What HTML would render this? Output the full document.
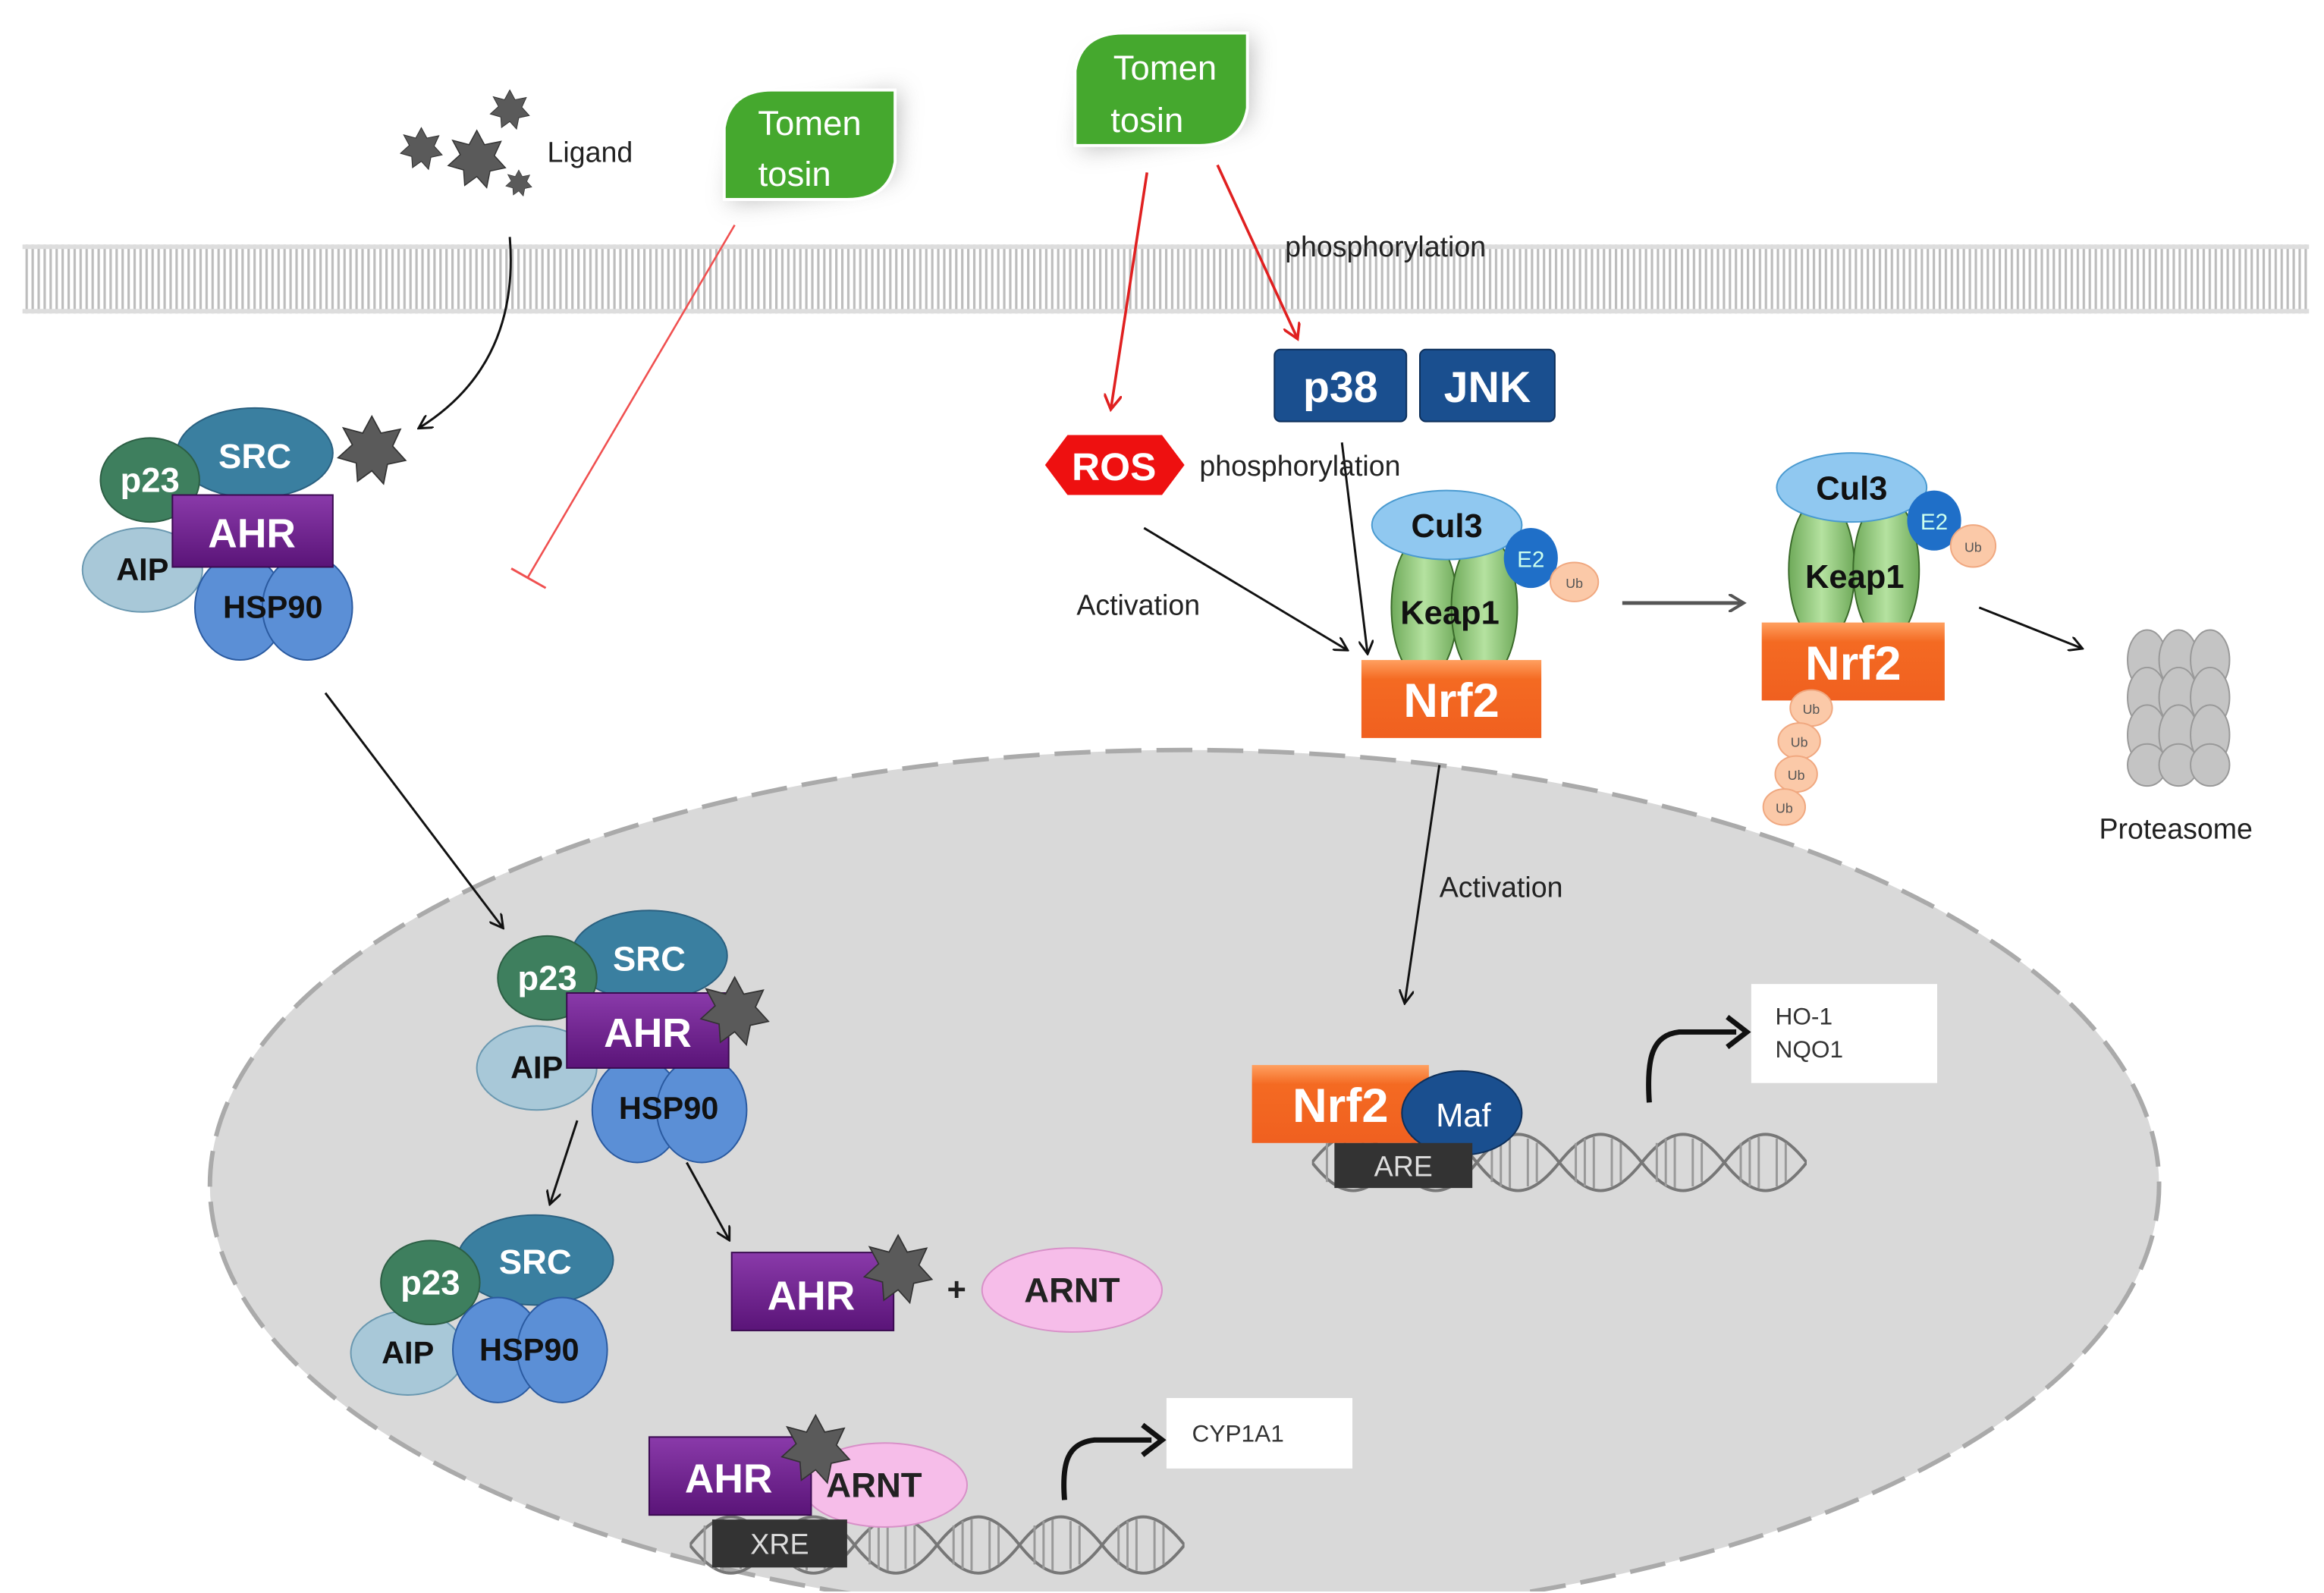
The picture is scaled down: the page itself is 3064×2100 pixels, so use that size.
<!DOCTYPE html>
<html><head><style>html,body{margin:0;padding:0;background:#fff}svg{display:block}</style></head><body>
<svg width="3064" height="2100" viewBox="0 0 1550 1062" preserveAspectRatio="none" xmlns="http://www.w3.org/2000/svg" font-family="Liberation Sans, sans-serif">
<defs>
<pattern id="mem" width="4" height="46" patternUnits="userSpaceOnUse"><rect width="4" height="46" fill="#fff"/><rect x="1" y="0" width="1.6" height="46" fill="#bdbdbd"/></pattern>
<marker id="ab" markerWidth="10" markerHeight="10" refX="8" refY="5" orient="auto" markerUnits="userSpaceOnUse"><path d="M0,0 L9,5 L0,10" fill="none" stroke="#111" stroke-width="1.5"/></marker>
<marker id="ar" markerWidth="12" markerHeight="12" refX="9" refY="6" orient="auto" markerUnits="userSpaceOnUse"><path d="M0,0 L10,6 L0,12" fill="none" stroke="#e02020" stroke-width="1.8"/></marker>
<marker id="ag" markerWidth="12" markerHeight="12" refX="9" refY="6" orient="auto" markerUnits="userSpaceOnUse"><path d="M0,0 L10,6 L0,12" fill="none" stroke="#555" stroke-width="2"/></marker>
<filter id="sh" x="-50%" y="-50%" width="200%" height="200%"><feGaussianBlur stdDeviation="8"/></filter>
<linearGradient id="og" x1="0" y1="0" x2="0" y2="1"><stop offset="0" stop-color="#ffa060"/><stop offset="0.25" stop-color="#f46a22"/><stop offset="1" stop-color="#f06020"/></linearGradient>
<linearGradient id="pg" x1="0" y1="0" x2="0" y2="1"><stop offset="0" stop-color="#8a3aaa"/><stop offset="1" stop-color="#5a1478"/></linearGradient>
<linearGradient id="gg" x1="0" y1="0" x2="1" y2="0"><stop offset="0" stop-color="#6faa5a"/><stop offset="0.5" stop-color="#b5e2a0"/><stop offset="1" stop-color="#6faa5a"/></linearGradient>
<symbol id="star" viewBox="-30 -30 60 60"><polygon points="0,-26 7,-13 22,-16 16,-3 26,8 12,11 9,26 0,16 -11,24 -12,10 -26,6 -15,-4 -22,-17 -7,-13" fill="#5a5a5a" stroke="#333" stroke-width="1"/></symbol>
<symbol id="helix" viewBox="0 0 330 50"><g fill="none" stroke="#777" stroke-width="2"><path d="M0,25 C20,0 35,0 55,25 S90,50 110,25 S145,0 165,25 S200,50 220,25 S255,0 275,25 S310,50 330,25"/><path d="M0,25 C20,50 35,50 55,25 S90,0 110,25 S145,50 165,25 S200,0 220,25 S255,50 275,25 S310,0 330,25"/></g><g stroke="#999" stroke-width="1.5"><path d="M10,12v26M16,9v32M22,8v34M34,9v32M40,12v26M66,12v26M72,9v32M78,8v34M90,9v32M96,12v26M120,12v26M126,9v32M132,8v34M144,9v32M150,12v26M176,12v26M182,9v32M188,8v34M200,9v32M206,12v26M230,12v26M236,9v32M242,8v34M254,9v32M260,12v26M286,12v26M292,9v32M298,8v34M310,9v32M316,12v26"/></g></symbol>
</defs>

<!-- membrane -->
<rect x="15" y="163" width="1525" height="46" fill="url(#mem)"/>
<rect x="15" y="163" width="1525" height="3" fill="#ddd"/><rect x="15" y="206" width="1525" height="3" fill="#ddd"/>

<!-- nucleus -->
<ellipse cx="790" cy="790" rx="650" ry="290" fill="#d9d9d9" stroke="#aaa" stroke-width="3" stroke-dasharray="24,10"/>
<rect x="0" y="1061" width="1550" height="2" fill="#fff"/>

<!-- ligand -->
<use href="#star" x="265" y="83" width="32" height="32"/>
<use href="#star" x="296" y="84" width="44" height="44"/>
<use href="#star" x="325" y="58" width="30" height="30"/>
<use href="#star" x="336" y="112" width="20" height="20"/>
<text x="365" y="108" font-size="19" fill="#222">Ligand</text>

<!-- tomentosin leaves -->
<path d="M496,80 Q560,70 600,60 L596,118 Q560,128 486,135 Z" fill="#999" filter="url(#sh)" opacity="0.7"/>
<path d="M483,133 L483,85 Q487,60 515,60 L597,60 L597,108 Q593,133 565,133 Z" fill="#45a82e" stroke="#fff" stroke-width="2"/>
<text x="540" y="90" font-size="23" fill="#fff" text-anchor="middle">Tomen</text>
<text x="530" y="124" font-size="23" fill="#fff" text-anchor="middle">tosin</text>
<path d="M730,40 Q790,30 835,25 L832,82 Q790,92 720,100 Z" fill="#999" filter="url(#sh)" opacity="0.7"/>
<path d="M717,97 L717,47 Q721,22 749,22 L832,22 L832,72 Q828,97 800,97 Z" fill="#45a82e" stroke="#fff" stroke-width="2"/>
<text x="777" y="53" font-size="23" fill="#fff" text-anchor="middle">Tomen</text>
<text x="765" y="88" font-size="23" fill="#fff" text-anchor="middle">tosin</text>

<!-- connectors -->
<path d="M340,158 C345,220 320,260 280,285" fill="none" stroke="#111" stroke-width="1.5" marker-end="url(#ab)"/>
<line x1="490" y1="150" x2="352" y2="385" stroke="#f05050" stroke-width="1.3"/>
<line x1="341" y1="379" x2="364" y2="392" stroke="#f05050" stroke-width="1.5"/>
<line x1="217" y1="462" x2="335" y2="618" stroke="#111" stroke-width="1.5" marker-end="url(#ab)"/>
<line x1="765" y1="115" x2="741" y2="272" stroke="#e02020" stroke-width="1.8" marker-end="url(#ar)"/>
<line x1="812" y1="110" x2="865" y2="225" stroke="#e02020" stroke-width="1.8" marker-end="url(#ar)"/>
<line x1="763" y1="352" x2="898" y2="433" stroke="#111" stroke-width="1.5" marker-end="url(#ab)"/>
<line x1="895" y1="295" x2="912" y2="435" stroke="#111" stroke-width="1.5" marker-end="url(#ab)"/>
<line x1="1082" y1="402" x2="1162" y2="402" stroke="#555" stroke-width="2.5" marker-end="url(#ag)"/>
<line x1="1320" y1="405" x2="1388" y2="432" stroke="#111" stroke-width="1.5" marker-end="url(#ab)"/>
<line x1="960" y1="510" x2="937" y2="668" stroke="#111" stroke-width="1.5" marker-end="url(#ab)"/>
<line x1="385" y1="747" x2="367" y2="802" stroke="#111" stroke-width="1.5" marker-end="url(#ab)"/>
<line x1="458" y1="775" x2="486" y2="826" stroke="#111" stroke-width="1.5" marker-end="url(#ab)"/>

<text x="857" y="171" font-size="19" fill="#222">phosphorylation</text>
<text x="800" y="317" font-size="19" fill="#222">phosphorylation</text>
<text x="718" y="410" font-size="19" fill="#222">Activation</text>
<text x="960" y="598" font-size="19" fill="#222">Activation</text>

<!-- AHR complex 1 -->
<ellipse cx="95" cy="380" rx="40" ry="28" fill="#a8c8d8" stroke="#6a98b0"/>
<ellipse cx="170" cy="302" rx="52" ry="30" fill="#3a7fa0" stroke="#2a6080"/>
<ellipse cx="100" cy="320" rx="33" ry="28" fill="#3e7f5e" stroke="#2c5e44"/>
<ellipse cx="160" cy="405" rx="30" ry="35" fill="#5b8fd6" stroke="#2a5aa0"/>
<ellipse cx="205" cy="405" rx="30" ry="35" fill="#5b8fd6" stroke="#2a5aa0"/>
<rect x="115" y="330" width="107" height="48" fill="url(#pg)" stroke="#3a0a50"/>
<use href="#star" x="222" y="274" width="52" height="52"/>
<text x="170" y="312" font-size="23" font-weight="bold" fill="#fff" text-anchor="middle">SRC</text>
<text x="100" y="328" font-size="23" font-weight="bold" fill="#fff" text-anchor="middle">p23</text>
<text x="168" y="365" font-size="27" font-weight="bold" fill="#fff" text-anchor="middle">AHR</text>
<text x="95" y="387" font-size="21" font-weight="bold" fill="#111" text-anchor="middle">AIP</text>
<text x="182" y="412" font-size="21" font-weight="bold" fill="#111" text-anchor="middle">HSP90</text>

<!-- AHR complex 2 (nucleus) -->
<ellipse cx="358" cy="712" rx="40" ry="28" fill="#a8c8d8" stroke="#6a98b0"/>
<ellipse cx="433" cy="637" rx="52" ry="30" fill="#3a7fa0" stroke="#2a6080"/>
<ellipse cx="365" cy="652" rx="33" ry="28" fill="#3e7f5e" stroke="#2c5e44"/>
<ellipse cx="425" cy="740" rx="30" ry="35" fill="#5b8fd6" stroke="#2a5aa0"/>
<ellipse cx="468" cy="740" rx="30" ry="35" fill="#5b8fd6" stroke="#2a5aa0"/>
<rect x="378" y="662" width="108" height="50" fill="url(#pg)" stroke="#3a0a50"/>
<use href="#star" x="464" y="648" width="52" height="52"/>
<text x="433" y="647" font-size="23" font-weight="bold" fill="#fff" text-anchor="middle">SRC</text>
<text x="365" y="660" font-size="23" font-weight="bold" fill="#fff" text-anchor="middle">p23</text>
<text x="432" y="698" font-size="27" font-weight="bold" fill="#fff" text-anchor="middle">AHR</text>
<text x="358" y="719" font-size="21" font-weight="bold" fill="#111" text-anchor="middle">AIP</text>
<text x="446" y="746" font-size="21" font-weight="bold" fill="#111" text-anchor="middle">HSP90</text>

<!-- complex 3 -->
<ellipse cx="272" cy="902" rx="38" ry="28" fill="#a8c8d8" stroke="#6a98b0"/>
<ellipse cx="357" cy="840" rx="52" ry="30" fill="#3a7fa0" stroke="#2a6080"/>
<ellipse cx="287" cy="855" rx="33" ry="28" fill="#3e7f5e" stroke="#2c5e44"/>
<ellipse cx="332" cy="900" rx="30" ry="35" fill="#5b8fd6" stroke="#2a5aa0"/>
<ellipse cx="375" cy="900" rx="30" ry="35" fill="#5b8fd6" stroke="#2a5aa0"/>
<text x="357" y="849" font-size="23" font-weight="bold" fill="#fff" text-anchor="middle">SRC</text>
<text x="287" y="863" font-size="23" font-weight="bold" fill="#fff" text-anchor="middle">p23</text>
<text x="272" y="909" font-size="21" font-weight="bold" fill="#111" text-anchor="middle">AIP</text>
<text x="353" y="907" font-size="21" font-weight="bold" fill="#111" text-anchor="middle">HSP90</text>

<!-- AHR + ARNT -->
<rect x="488" y="835" width="108" height="52" fill="url(#pg)" stroke="#3a0a50"/>
<use href="#star" x="573" y="820" width="52" height="52"/>
<text x="541" y="873" font-size="27" font-weight="bold" fill="#fff" text-anchor="middle">AHR</text>
<text x="638" y="867" font-size="22" font-weight="bold" fill="#222" text-anchor="middle">+</text>
<ellipse cx="715" cy="860" rx="60" ry="28" fill="#f6bde9" stroke="#d890c8"/>
<text x="715" y="868" font-size="23" font-weight="bold" fill="#222" text-anchor="middle">ARNT</text>

<!-- bottom XRE -->
<use href="#helix" x="460" y="1005" width="330" height="50"/>
<ellipse cx="590" cy="990" rx="55" ry="28" fill="#f6bde9" stroke="#d890c8"/>
<rect x="433" y="958" width="108" height="52" fill="url(#pg)" stroke="#3a0a50"/>
<use href="#star" x="518" y="940" width="52" height="52"/>
<text x="486" y="995" font-size="27" font-weight="bold" fill="#fff" text-anchor="middle">AHR</text>
<text x="583" y="998" font-size="23" font-weight="bold" fill="#222" text-anchor="middle">ARNT</text>
<rect x="475" y="1013" width="90" height="32" fill="#333"/>
<text x="520" y="1036" font-size="19" fill="#ddd" text-anchor="middle">XRE</text>
<path d="M710,1000 C708,975 712,962 730,960 L768,960" fill="none" stroke="#111" stroke-width="3.5"/>
<path d="M762,950 L775,960 L762,970" fill="none" stroke="#111" stroke-width="3.5"/>
<rect x="778" y="932" width="124" height="47" fill="#fff"/>
<text x="795" y="961" font-size="16" fill="#333">CYP1A1</text>

<!-- p38 JNK ROS -->
<rect x="850" y="233" width="88" height="48" rx="4" fill="#1a4f8f" stroke="#0d2f5a"/>
<text x="894" y="268" font-size="29" font-weight="bold" fill="#fff" text-anchor="middle">p38</text>
<rect x="947" y="233" width="90" height="48" rx="4" fill="#1a4f8f" stroke="#0d2f5a"/>
<text x="992" y="268" font-size="29" font-weight="bold" fill="#fff" text-anchor="middle">JNK</text>
<polygon points="697,310 712,290 775,290 790,310 775,330 712,330" fill="#ee1010"/>
<text x="743" y="320" font-size="26" font-weight="bold" fill="#fff" text-anchor="middle">ROS</text>

<!-- Keap1 complex 1 -->
<ellipse cx="950" cy="405" rx="22" ry="48" fill="url(#gg)" stroke="#3a6a2a"/>
<ellipse cx="990" cy="405" rx="22" ry="48" fill="url(#gg)" stroke="#3a6a2a"/>
<ellipse cx="965" cy="350" rx="50" ry="23" fill="#90c8f0" stroke="#4a9ad0"/>
<ellipse cx="1021" cy="372" rx="18" ry="20" fill="#1f6fc8"/>
<ellipse cx="1050" cy="388" rx="16" ry="13" fill="#fbc9a8" stroke="#f0a880"/>
<text x="965" y="358" font-size="22" font-weight="bold" fill="#111" text-anchor="middle">Cul3</text>
<text x="1021" y="378" font-size="15" fill="#cfe" text-anchor="middle">E2</text>
<text x="1050" y="392" font-size="9" fill="#555" text-anchor="middle">Ub</text>
<text x="967" y="416" font-size="22" font-weight="bold" fill="#111" text-anchor="middle">Keap1</text>
<rect x="908" y="440" width="120" height="52" fill="url(#og)"/>
<text x="968" y="478" font-size="32" font-weight="bold" fill="#fff" text-anchor="middle">Nrf2</text>

<!-- Keap1 complex 2 -->
<ellipse cx="1215" cy="380" rx="22" ry="48" fill="url(#gg)" stroke="#3a6a2a"/>
<ellipse cx="1258" cy="380" rx="22" ry="48" fill="url(#gg)" stroke="#3a6a2a"/>
<ellipse cx="1235" cy="325" rx="50" ry="23" fill="#90c8f0" stroke="#4a9ad0"/>
<ellipse cx="1290" cy="347" rx="18" ry="20" fill="#1f6fc8"/>
<ellipse cx="1316" cy="364" rx="15" ry="14" fill="#fbc9a8" stroke="#f0a880"/>
<text x="1235" y="333" font-size="22" font-weight="bold" fill="#111" text-anchor="middle">Cul3</text>
<text x="1290" y="353" font-size="15" fill="#cfe" text-anchor="middle">E2</text>
<text x="1316" y="368" font-size="9" fill="#555" text-anchor="middle">Ub</text>
<text x="1237" y="392" font-size="22" font-weight="bold" fill="#111" text-anchor="middle">Keap1</text>
<rect x="1175" y="415" width="122" height="52" fill="url(#og)"/>
<text x="1236" y="453" font-size="32" font-weight="bold" fill="#fff" text-anchor="middle">Nrf2</text>
<g fill="#fbc9a8" stroke="#f0a880">
<ellipse cx="1208" cy="472" rx="14" ry="12"/><ellipse cx="1200" cy="494" rx="14" ry="12"/><ellipse cx="1198" cy="516" rx="14" ry="12"/><ellipse cx="1190" cy="538" rx="14" ry="12"/></g>
<g font-size="9" fill="#555" text-anchor="middle"><text x="1208" y="476">Ub</text><text x="1200" y="498">Ub</text><text x="1198" y="520">Ub</text><text x="1190" y="542">Ub</text></g>

<!-- proteasome -->
<g fill="#c4c4c4" stroke="#999">
<ellipse cx="1432" cy="440" rx="13" ry="20"/><ellipse cx="1453" cy="440" rx="13" ry="20"/><ellipse cx="1474" cy="440" rx="13" ry="20"/>
<ellipse cx="1432" cy="465" rx="13" ry="20"/><ellipse cx="1453" cy="465" rx="13" ry="20"/><ellipse cx="1474" cy="465" rx="13" ry="20"/>
<ellipse cx="1432" cy="490" rx="13" ry="20"/><ellipse cx="1453" cy="490" rx="13" ry="20"/><ellipse cx="1474" cy="490" rx="13" ry="20"/>
<ellipse cx="1432" cy="510" rx="13" ry="14"/><ellipse cx="1453" cy="510" rx="13" ry="14"/><ellipse cx="1474" cy="510" rx="13" ry="14"/></g>
<text x="1400" y="559" font-size="19" fill="#222">Proteasome</text>

<!-- Nrf2 Maf ARE -->
<use href="#helix" x="875" y="750" width="330" height="50"/>
<rect x="835" y="710" width="118" height="52" fill="url(#og)"/>
<text x="894" y="748" font-size="32" font-weight="bold" fill="#fff" text-anchor="middle">Nrf2</text>
<ellipse cx="975" cy="742" rx="40" ry="28" fill="#1a4f8f" stroke="#0d2f5a"/>
<text x="976" y="751" font-size="22" fill="#fff" text-anchor="middle">Maf</text>
<rect x="890" y="762" width="92" height="30" fill="#333"/>
<text x="936" y="784" font-size="19" fill="#ddd" text-anchor="middle">ARE</text>
<path d="M1100,735 C1098,705 1102,690 1120,688 L1158,688" fill="none" stroke="#111" stroke-width="3.5"/>
<path d="M1152,678 L1165,688 L1152,698" fill="none" stroke="#111" stroke-width="3.5"/>
<rect x="1168" y="656" width="124" height="66" fill="#fff"/>
<text x="1184" y="683" font-size="16" fill="#333">HO-1</text>
<text x="1184" y="705" font-size="16" fill="#333">NQO1</text>
</svg>
</body></html>
